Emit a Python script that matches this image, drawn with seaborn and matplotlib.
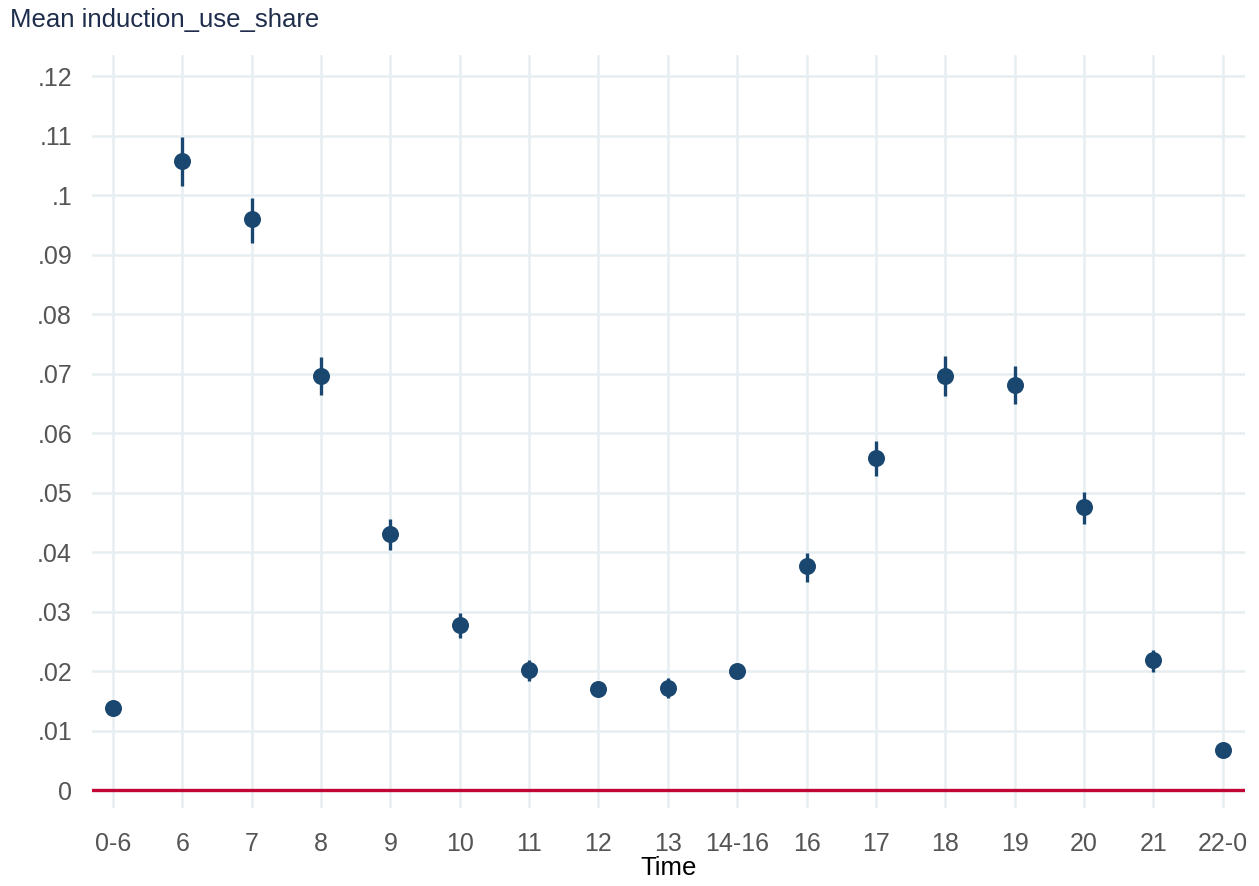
import numpy as np
import pandas as pd
import matplotlib.pyplot as plt
import seaborn as sns

sns.set_style("white")
plt.rcParams["font.family"] = ["Liberation Sans", "DejaVu Sans"]

# 시간대별 평균값과 신뢰구간
time = ["0-6", "6", "7", "8", "9", "10", "11", "12", "13", "14-16",
        "16", "17", "18", "19", "20", "21", "22-0"]
mean = [0.0137, 0.1058, 0.0959, 0.0696, 0.0431, 0.0277, 0.0201, 0.0170, 0.0172,
        0.0200, 0.0376, 0.0558, 0.0696, 0.0681, 0.0476, 0.0218, 0.0068]
ci_lo = [0.0128, 0.1016, 0.0919, 0.0664, 0.0403, 0.0255, 0.0183, 0.0160, 0.0155,
         0.0192, 0.0350, 0.0528, 0.0663, 0.0648, 0.0447, 0.0199, 0.0062]
ci_hi = [0.0147, 0.1097, 0.0995, 0.0728, 0.0455, 0.0297, 0.0218, 0.0181, 0.0188,
         0.0208, 0.0398, 0.0587, 0.0730, 0.0713, 0.0501, 0.0236, 0.0074]
yticks = [0, 0.01, 0.02, 0.03, 0.04, 0.05, 0.06, 0.07, 0.08, 0.09, 0.1, 0.11, 0.12]

df = pd.DataFrame({"time": time, "mean": mean, "lo": ci_lo, "hi": ci_hi})

navy = "#1a476f"
gridc = "#e7eef1"

fig, ax = plt.subplots(figsize=(12.59, 8.86), dpi=100)
fig.subplots_adjust(left=0.0731, right=0.9889, top=0.9379, bottom=0.0880)

# 신뢰구간 세로선
ax.vlines(df["time"], df["lo"], df["hi"], color=navy, lw=2.4, zorder=3)
sns.scatterplot(data=df, x="time", y="mean", color=navy, s=150,
                linewidth=0, zorder=4, ax=ax)

ax.axhline(0, color="#c10534", lw=2.4, zorder=2.5)

ax.set_xlim(-0.30, 16.32)
ax.set_ylim(-0.00303, 0.12353)
ax.set_yticks(yticks)
ax.set_yticklabels([("%g" % v).lstrip("0") or "0" for v in yticks])

for s in ax.spines.values():
    s.set_visible(False)
ax.grid(True, color=gridc, lw=1.8)
ax.set_axisbelow(True)
ax.tick_params(axis="both", length=9.4, width=1.6, color=gridc,
               labelsize=18, labelcolor="#555555")
ax.tick_params(axis="x", pad=7.6)
ax.tick_params(axis="y", pad=5)

ax.set_xlabel("Time", fontsize=18.5, color="black", labelpad=0.6)
ax.set_ylabel("")
fig.text(10 / 1259, 1 - 27 / 886, "Mean induction_use_share", fontsize=18.5,
         color="#1f2d4d", ha="left", va="baseline")

plt.savefig("out.png", dpi=100)
